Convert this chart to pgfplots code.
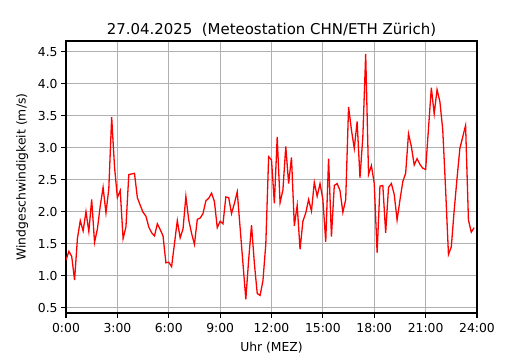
\documentclass[border=0pt]{standalone}
\usepackage{pgfplots}
\pgfplotsset{compat=1.18}
\usepackage{fontspec}
\setmainfont{DejaVu Sans}
\pgfplotstableread{
t v
0 1.24
10 1.38
20 1.30
30 0.93
40 1.58
50 1.86
60 1.70
70 2.00
80 1.69
90 2.19
100 1.52
110 1.73
120 2.09
130 2.38
140 1.98
150 2.36
160 3.48
170 2.70
180 2.22
190 2.33
200 1.58
210 1.76
220 2.58
230 2.59
240 2.60
250 2.22
260 2.10
270 1.99
280 1.93
290 1.76
300 1.67
310 1.62
320 1.81
330 1.72
340 1.62
350 1.20
360 1.21
370 1.14
380 1.50
390 1.86
400 1.59
410 1.73
420 2.24
430 1.87
440 1.66
450 1.49
460 1.88
470 1.90
480 1.97
490 2.17
500 2.21
510 2.29
520 2.16
530 1.75
540 1.85
550 1.81
560 2.23
570 2.22
580 1.97
590 2.13
600 2.31
610 1.75
620 1.19
630 0.63
640 1.25
650 1.79
660 1.19
670 0.72
680 0.69
690 0.92
700 1.49
710 2.86
720 2.81
730 2.13
740 3.17
750 2.14
760 2.34
770 3.02
780 2.44
790 2.85
800 1.78
810 2.10
820 1.41
830 1.85
840 1.98
850 2.19
860 2.01
870 2.46
880 2.24
890 2.44
900 2.19
910 1.53
920 2.83
930 1.61
940 2.41
950 2.44
960 2.33
970 1.99
980 2.19
990 3.64
1000 3.28
1010 2.99
1020 3.41
1030 2.53
1040 3.17
1050 4.47
1060 2.58
1070 2.72
1080 2.44
1090 1.36
1100 2.40
1110 2.41
1120 1.67
1130 2.38
1140 2.44
1150 2.27
1160 1.87
1170 2.18
1180 2.47
1190 2.60
1200 3.22
1210 3.02
1220 2.73
1230 2.83
1240 2.74
1250 2.68
1260 2.66
1270 3.30
1280 3.94
1290 3.53
1300 3.91
1310 3.72
1320 3.28
1330 2.35
1340 1.33
1350 1.45
1360 2.02
1370 2.52
1380 2.99
1390 3.17
1400 3.35
1410 1.87
1420 1.68
1430 1.75
}\wind
\definecolor{gridgray}{HTML}{B0B0B0}
\begin{document}
\begin{tikzpicture}
\begin{axis}[
  scale only axis,
  width=411bp, height=272bp,
  xmin=0, xmax=1440,
  ymin=0.415, ymax=4.67,
  xtick={0,180,...,1440},
  xticklabels={0:00,3:00,6:00,9:00,12:00,15:00,18:00,21:00,24:00},
  ytick={0.5,1.0,...,4.5},
  yticklabel style={/pgf/number format/.cd, fixed, fixed zerofill, precision=1},
  /pgf/number format/assume math mode=true,
  tick label style={font=\fontsize{12.4}{14}\selectfont},
  xticklabel style={yshift=-2bp},
  label style={font=\fontsize{12.4}{14}\selectfont},
  xlabel style={yshift=-3bp},
  ylabel style={yshift=3bp},
  title style={font=\fontsize{15}{18}\selectfont, yshift=-5bp},
  title={27.04.2025\ \ (Meteostation CHN/ETH Zürich)},
  xlabel={Uhr (MEZ)},
  ylabel={Windgeschwindigkeit (m/s)},
  grid=major,
  major grid style={gridgray, line width=1.1bp},
  axis line style={line width=1.1bp},
  tick style={black, line width=1.1bp},
  tick align=outside,
  major tick length=4.9bp,
  xtick pos=bottom, ytick pos=left,
]
\addplot[red, line width=1.3bp, mark=none] table[x=t, y=v] {\wind};
\end{axis}
\path (current axis.south west) ++(-66bp,-37bp) rectangle ++(530bp,350bp);
\end{tikzpicture}
\end{document}
